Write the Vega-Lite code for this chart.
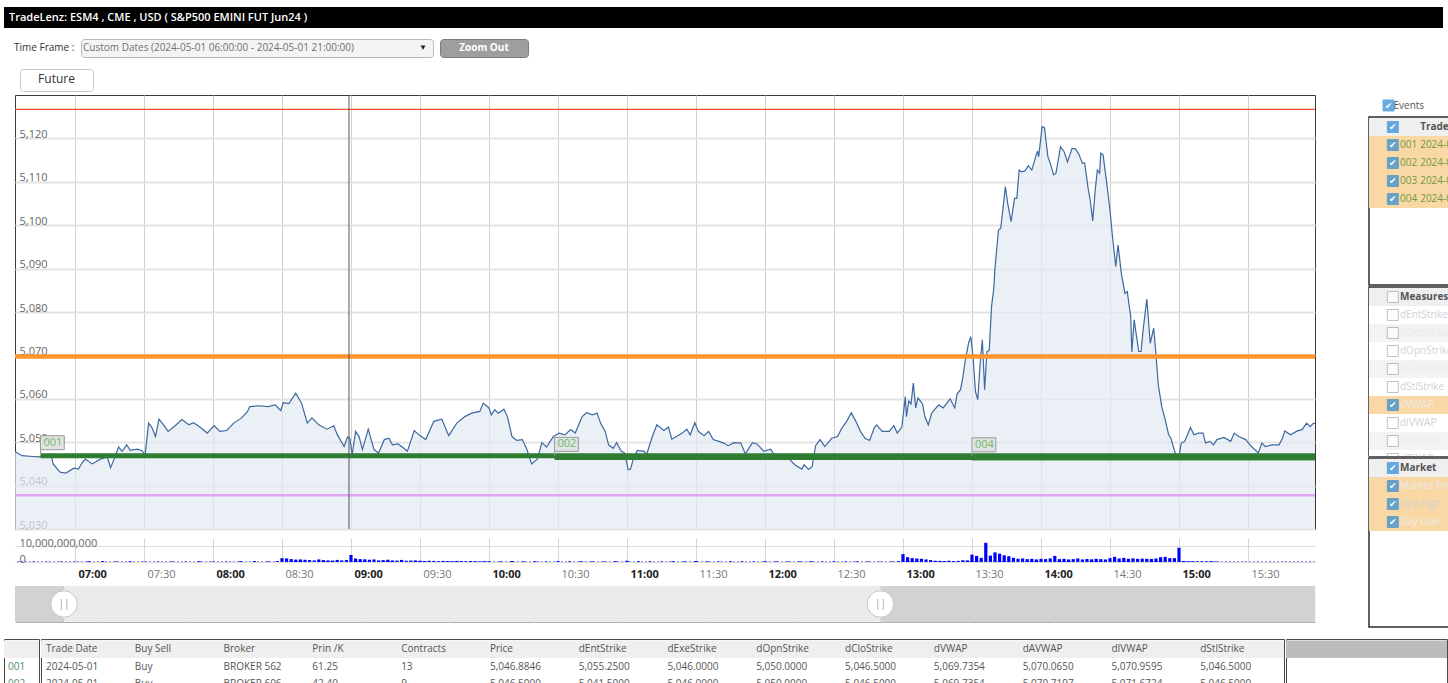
{
"$schema": "https://vega.github.io/schema/vega-lite/v6.json",
"background": "white",
"padding": {"left": 3, "top": 7, "right": 0, "bottom": 0},
"config": {"view": {"stroke": null}, "font": "Open Sans"},
"spacing": 10,
"datasets": {
"price": [
{"t":"2024-05-01T06:33:55Z","p":5047.9},{"t":"2024-05-01T06:34:00Z","p":5047.8},{"t":"2024-05-01T06:37:00Z","p":5046.9},{"t":"2024-05-01T06:41:30Z","p":5046.7},{"t":"2024-05-01T06:44:00Z","p":5046.6},{"t":"2024-05-01T06:47:00Z","p":5046.9},{"t":"2024-05-01T06:49:30Z","p":5047.3},{"t":"2024-05-01T06:50:30Z","p":5045.0},{"t":"2024-05-01T06:53:30Z","p":5043.1},{"t":"2024-05-01T06:56:00Z","p":5042.9},{"t":"2024-05-01T06:59:30Z","p":5044.0},
{"t":"2024-05-01T07:01:30Z","p":5043.8},{"t":"2024-05-01T07:03:00Z","p":5045.2},{"t":"2024-05-01T07:04:30Z","p":5046.1},{"t":"2024-05-01T07:07:30Z","p":5045.0},{"t":"2024-05-01T07:11:00Z","p":5046.1},{"t":"2024-05-01T07:14:00Z","p":5046.6},{"t":"2024-05-01T07:15:30Z","p":5044.1},{"t":"2024-05-01T07:17:00Z","p":5046.1},{"t":"2024-05-01T07:19:00Z","p":5048.9},{"t":"2024-05-01T07:20:30Z","p":5047.9},{"t":"2024-05-01T07:22:30Z","p":5049.4},{"t":"2024-05-01T07:24:00Z","p":5048.1},{"t":"2024-05-01T07:27:00Z","p":5048.4},{"t":"2024-05-01T07:29:00Z","p":5048.1},{"t":"2024-05-01T07:30:30Z","p":5047.1},{"t":"2024-05-01T07:32:00Z","p":5054.4},{"t":"2024-05-01T07:33:30Z","p":5053.3},{"t":"2024-05-01T07:35:00Z","p":5051.3},{"t":"2024-05-01T07:36:30Z","p":5055.3},{"t":"2024-05-01T07:38:30Z","p":5054.0},{"t":"2024-05-01T07:40:30Z","p":5052.5},{"t":"2024-05-01T07:43:30Z","p":5053.8},{"t":"2024-05-01T07:46:30Z","p":5055.2},{"t":"2024-05-01T07:49:30Z","p":5054.0},{"t":"2024-05-01T07:51:30Z","p":5054.5},{"t":"2024-05-01T07:54:00Z","p":5053.6},{"t":"2024-05-01T07:57:30Z","p":5052.1},
{"t":"2024-05-01T08:00:30Z","p":5053.8},{"t":"2024-05-01T08:03:00Z","p":5052.5},{"t":"2024-05-01T08:06:00Z","p":5052.7},{"t":"2024-05-01T08:09:00Z","p":5054.4},{"t":"2024-05-01T08:12:30Z","p":5055.6},{"t":"2024-05-01T08:15:00Z","p":5057.1},{"t":"2024-05-01T08:16:00Z","p":5058.2},{"t":"2024-05-01T08:20:00Z","p":5058.4},{"t":"2024-05-01T08:24:00Z","p":5058.2},{"t":"2024-05-01T08:27:00Z","p":5058.6},{"t":"2024-05-01T08:29:30Z","p":5057.3},{"t":"2024-05-01T08:30:30Z","p":5059.1},{"t":"2024-05-01T08:33:00Z","p":5058.9},{"t":"2024-05-01T08:36:00Z","p":5061.3},{"t":"2024-05-01T08:38:30Z","p":5059.0},{"t":"2024-05-01T08:41:00Z","p":5054.4},{"t":"2024-05-01T08:43:00Z","p":5055.6},{"t":"2024-05-01T08:46:00Z","p":5054.0},{"t":"2024-05-01T08:49:30Z","p":5053.0},{"t":"2024-05-01T08:52:30Z","p":5053.8},{"t":"2024-05-01T08:54:00Z","p":5051.8},{"t":"2024-05-01T08:57:00Z","p":5049.0},{"t":"2024-05-01T08:58:30Z","p":5051.2},{"t":"2024-05-01T08:59:30Z","p":5050.9},
{"t":"2024-05-01T09:00:30Z","p":5047.1},{"t":"2024-05-01T09:02:00Z","p":5052.5},{"t":"2024-05-01T09:03:30Z","p":5051.3},{"t":"2024-05-01T09:05:00Z","p":5048.3},{"t":"2024-05-01T09:07:30Z","p":5053.0},{"t":"2024-05-01T09:10:00Z","p":5048.3},{"t":"2024-05-01T09:12:00Z","p":5047.5},{"t":"2024-05-01T09:14:30Z","p":5050.6},{"t":"2024-05-01T09:16:30Z","p":5050.9},{"t":"2024-05-01T09:18:00Z","p":5049.4},{"t":"2024-05-01T09:20:30Z","p":5049.6},{"t":"2024-05-01T09:23:00Z","p":5048.6},{"t":"2024-05-01T09:24:30Z","p":5047.9},{"t":"2024-05-01T09:27:30Z","p":5052.7},{"t":"2024-05-01T09:29:30Z","p":5051.7},{"t":"2024-05-01T09:32:30Z","p":5050.6},{"t":"2024-05-01T09:36:00Z","p":5054.8},{"t":"2024-05-01T09:39:30Z","p":5055.3},{"t":"2024-05-01T09:42:30Z","p":5051.5},{"t":"2024-05-01T09:46:00Z","p":5054.4},{"t":"2024-05-01T09:49:30Z","p":5055.9},{"t":"2024-05-01T09:52:30Z","p":5056.7},{"t":"2024-05-01T09:56:00Z","p":5057.1},{"t":"2024-05-01T09:57:30Z","p":5059.0},
{"t":"2024-05-01T10:00:00Z","p":5057.9},{"t":"2024-05-01T10:01:00Z","p":5056.3},{"t":"2024-05-01T10:02:30Z","p":5057.5},{"t":"2024-05-01T10:04:00Z","p":5056.7},{"t":"2024-05-01T10:06:30Z","p":5057.6},{"t":"2024-05-01T10:08:00Z","p":5055.9},{"t":"2024-05-01T10:10:00Z","p":5051.3},{"t":"2024-05-01T10:12:00Z","p":5050.4},{"t":"2024-05-01T10:14:30Z","p":5050.6},{"t":"2024-05-01T10:16:30Z","p":5048.3},{"t":"2024-05-01T10:18:30Z","p":5045.0},{"t":"2024-05-01T10:21:00Z","p":5046.1},{"t":"2024-05-01T10:23:00Z","p":5049.9},{"t":"2024-05-01T10:25:00Z","p":5048.9},{"t":"2024-05-01T10:28:00Z","p":5051.3},{"t":"2024-05-01T10:30:30Z","p":5052.1},{"t":"2024-05-01T10:33:00Z","p":5051.7},{"t":"2024-05-01T10:35:30Z","p":5052.9},{"t":"2024-05-01T10:37:30Z","p":5052.1},{"t":"2024-05-01T10:40:30Z","p":5055.9},{"t":"2024-05-01T10:42:30Z","p":5056.8},{"t":"2024-05-01T10:45:00Z","p":5056.3},{"t":"2024-05-01T10:47:00Z","p":5056.7},{"t":"2024-05-01T10:48:30Z","p":5054.4},{"t":"2024-05-01T10:50:30Z","p":5052.5},{"t":"2024-05-01T10:52:00Z","p":5049.4},{"t":"2024-05-01T10:54:00Z","p":5048.6},{"t":"2024-05-01T10:55:30Z","p":5049.9},{"t":"2024-05-01T10:57:30Z","p":5047.9},{"t":"2024-05-01T10:59:00Z","p":5047.5},
{"t":"2024-05-01T11:00:30Z","p":5043.7},{"t":"2024-05-01T11:01:30Z","p":5043.8},{"t":"2024-05-01T11:03:00Z","p":5046.6},{"t":"2024-05-01T11:04:30Z","p":5048.1},{"t":"2024-05-01T11:07:30Z","p":5047.9},{"t":"2024-05-01T11:08:30Z","p":5047.1},{"t":"2024-05-01T11:11:00Z","p":5051.3},{"t":"2024-05-01T11:13:00Z","p":5054.0},{"t":"2024-05-01T11:16:00Z","p":5052.7},{"t":"2024-05-01T11:18:00Z","p":5053.5},{"t":"2024-05-01T11:19:30Z","p":5050.7},{"t":"2024-05-01T11:21:30Z","p":5051.3},{"t":"2024-05-01T11:24:00Z","p":5052.1},{"t":"2024-05-01T11:26:00Z","p":5053.0},{"t":"2024-05-01T11:27:30Z","p":5051.7},{"t":"2024-05-01T11:29:30Z","p":5054.5},{"t":"2024-05-01T11:31:00Z","p":5052.5},{"t":"2024-05-01T11:33:30Z","p":5051.5},{"t":"2024-05-01T11:35:30Z","p":5052.5},{"t":"2024-05-01T11:37:30Z","p":5050.6},{"t":"2024-05-01T11:40:00Z","p":5050.2},{"t":"2024-05-01T11:42:00Z","p":5049.8},{"t":"2024-05-01T11:44:00Z","p":5049.2},{"t":"2024-05-01T11:46:30Z","p":5049.9},{"t":"2024-05-01T11:49:30Z","p":5049.8},{"t":"2024-05-01T11:51:30Z","p":5047.3},{"t":"2024-05-01T11:54:30Z","p":5049.9},{"t":"2024-05-01T11:56:30Z","p":5049.6},{"t":"2024-05-01T11:59:30Z","p":5047.9},
{"t":"2024-05-01T12:02:30Z","p":5048.4},{"t":"2024-05-01T12:04:00Z","p":5047.1},{"t":"2024-05-01T12:06:00Z","p":5046.6},{"t":"2024-05-01T12:08:00Z","p":5046.0},{"t":"2024-05-01T12:10:30Z","p":5046.1},{"t":"2024-05-01T12:13:00Z","p":5044.8},{"t":"2024-05-01T12:16:00Z","p":5043.8},{"t":"2024-05-01T12:17:00Z","p":5044.8},{"t":"2024-05-01T12:19:00Z","p":5043.7},{"t":"2024-05-01T12:20:30Z","p":5044.4},{"t":"2024-05-01T12:22:00Z","p":5049.2},{"t":"2024-05-01T12:24:00Z","p":5050.6},{"t":"2024-05-01T12:26:00Z","p":5049.0},{"t":"2024-05-01T12:29:00Z","p":5050.9},{"t":"2024-05-01T12:31:30Z","p":5051.3},{"t":"2024-05-01T12:33:30Z","p":5053.3},{"t":"2024-05-01T12:35:30Z","p":5054.8},{"t":"2024-05-01T12:37:30Z","p":5056.8},{"t":"2024-05-01T12:39:30Z","p":5054.8},{"t":"2024-05-01T12:41:30Z","p":5052.5},{"t":"2024-05-01T12:43:30Z","p":5050.9},{"t":"2024-05-01T12:45:30Z","p":5050.4},{"t":"2024-05-01T12:47:30Z","p":5053.3},{"t":"2024-05-01T12:48:30Z","p":5054.0},{"t":"2024-05-01T12:51:00Z","p":5052.5},{"t":"2024-05-01T12:54:00Z","p":5052.5},{"t":"2024-05-01T12:56:00Z","p":5053.8},{"t":"2024-05-01T12:57:30Z","p":5052.1},{"t":"2024-05-01T12:59:30Z","p":5053.5},
{"t":"2024-05-01T13:01:00Z","p":5060.5},{"t":"2024-05-01T13:01:30Z","p":5055.9},{"t":"2024-05-01T13:02:30Z","p":5059.5},{"t":"2024-05-01T13:03:30Z","p":5058.8},{"t":"2024-05-01T13:04:30Z","p":5063.6},{"t":"2024-05-01T13:05:30Z","p":5057.9},{"t":"2024-05-01T13:06:30Z","p":5060.2},{"t":"2024-05-01T13:07:30Z","p":5059.5},{"t":"2024-05-01T13:08:30Z","p":5058.8},{"t":"2024-05-01T13:09:30Z","p":5055.9},{"t":"2024-05-01T13:11:00Z","p":5054.0},{"t":"2024-05-01T13:12:30Z","p":5056.7},{"t":"2024-05-01T13:15:30Z","p":5058.6},{"t":"2024-05-01T13:17:30Z","p":5057.9},{"t":"2024-05-01T13:20:30Z","p":5060.0},{"t":"2024-05-01T13:22:30Z","p":5057.9},{"t":"2024-05-01T13:23:30Z","p":5061.1},{"t":"2024-05-01T13:25:00Z","p":5062.1},{"t":"2024-05-01T13:26:00Z","p":5064.9},{"t":"2024-05-01T13:27:00Z","p":5068.6},{"t":"2024-05-01T13:28:30Z","p":5072.8},{"t":"2024-05-01T13:29:30Z","p":5074.3},{"t":"2024-05-01T13:30:30Z","p":5069.4},{"t":"2024-05-01T13:31:30Z","p":5061.7},{"t":"2024-05-01T13:32:30Z","p":5059.8},{"t":"2024-05-01T13:33:30Z","p":5067.8},{"t":"2024-05-01T13:34:30Z","p":5073.6},{"t":"2024-05-01T13:35:30Z","p":5062.1},{"t":"2024-05-01T13:36:30Z","p":5070.9},{"t":"2024-05-01T13:37:30Z","p":5071.1},{"t":"2024-05-01T13:38:30Z","p":5081.3},{"t":"2024-05-01T13:39:30Z","p":5085.5},{"t":"2024-05-01T13:40:00Z","p":5090.1},{"t":"2024-05-01T13:41:30Z","p":5098.9},{"t":"2024-05-01T13:42:30Z","p":5099.3},{"t":"2024-05-01T13:43:30Z","p":5103.9},{"t":"2024-05-01T13:44:30Z","p":5108.9},{"t":"2024-05-01T13:45:30Z","p":5105.1},{"t":"2024-05-01T13:47:00Z","p":5100.8},{"t":"2024-05-01T13:48:30Z","p":5106.2},{"t":"2024-05-01T13:49:30Z","p":5106.2},{"t":"2024-05-01T13:50:30Z","p":5112.7},{"t":"2024-05-01T13:51:30Z","p":5112.3},{"t":"2024-05-01T13:53:00Z","p":5112.5},{"t":"2024-05-01T13:54:30Z","p":5113.7},{"t":"2024-05-01T13:56:00Z","p":5112.7},{"t":"2024-05-01T13:57:30Z","p":5115.4},{"t":"2024-05-01T13:58:30Z","p":5117.1},{"t":"2024-05-01T13:59:00Z","p":5115.8},
{"t":"2024-05-01T14:00:30Z","p":5122.7},{"t":"2024-05-01T14:01:30Z","p":5122.5},{"t":"2024-05-01T14:03:00Z","p":5115.8},{"t":"2024-05-01T14:04:00Z","p":5114.3},{"t":"2024-05-01T14:05:30Z","p":5111.6},{"t":"2024-05-01T14:06:30Z","p":5112.0},{"t":"2024-05-01T14:08:30Z","p":5118.1},{"t":"2024-05-01T14:10:00Z","p":5117.0},{"t":"2024-05-01T14:11:30Z","p":5114.6},{"t":"2024-05-01T14:13:30Z","p":5117.7},{"t":"2024-05-01T14:15:00Z","p":5117.6},{"t":"2024-05-01T14:16:30Z","p":5116.3},{"t":"2024-05-01T14:18:00Z","p":5114.3},{"t":"2024-05-01T14:19:00Z","p":5114.3},{"t":"2024-05-01T14:20:30Z","p":5108.5},{"t":"2024-05-01T14:21:30Z","p":5105.4},{"t":"2024-05-01T14:22:30Z","p":5101.0},{"t":"2024-05-01T14:23:30Z","p":5107.7},{"t":"2024-05-01T14:24:30Z","p":5112.7},{"t":"2024-05-01T14:25:30Z","p":5112.0},{"t":"2024-05-01T14:26:00Z","p":5116.6},{"t":"2024-05-01T14:27:00Z","p":5116.2},{"t":"2024-05-01T14:28:30Z","p":5110.0},{"t":"2024-05-01T14:30:00Z","p":5103.5},{"t":"2024-05-01T14:31:00Z","p":5097.8},{"t":"2024-05-01T14:32:30Z","p":5090.5},{"t":"2024-05-01T14:33:30Z","p":5095.5},{"t":"2024-05-01T14:35:00Z","p":5088.6},{"t":"2024-05-01T14:36:30Z","p":5084.3},{"t":"2024-05-01T14:37:30Z","p":5084.7},{"t":"2024-05-01T14:39:00Z","p":5079.0},{"t":"2024-05-01T14:39:30Z","p":5070.8},{"t":"2024-05-01T14:40:30Z","p":5078.2},{"t":"2024-05-01T14:42:30Z","p":5070.9},{"t":"2024-05-01T14:43:30Z","p":5070.9},{"t":"2024-05-01T14:44:30Z","p":5076.3},{"t":"2024-05-01T14:46:00Z","p":5083.0},{"t":"2024-05-01T14:47:30Z","p":5072.8},{"t":"2024-05-01T14:49:00Z","p":5076.3},{"t":"2024-05-01T14:50:00Z","p":5070.1},{"t":"2024-05-01T14:51:00Z","p":5063.2},{"t":"2024-05-01T14:52:30Z","p":5058.2},{"t":"2024-05-01T14:54:00Z","p":5055.2},{"t":"2024-05-01T14:55:30Z","p":5051.7},{"t":"2024-05-01T14:56:30Z","p":5050.9},{"t":"2024-05-01T14:57:30Z","p":5049.0},{"t":"2024-05-01T14:58:30Z","p":5047.3},
{"t":"2024-05-01T15:00:00Z","p":5046.7},{"t":"2024-05-01T15:01:00Z","p":5049.8},{"t":"2024-05-01T15:02:30Z","p":5050.2},{"t":"2024-05-01T15:05:00Z","p":5053.4},{"t":"2024-05-01T15:06:30Z","p":5051.7},{"t":"2024-05-01T15:08:30Z","p":5052.1},{"t":"2024-05-01T15:10:30Z","p":5052.1},{"t":"2024-05-01T15:11:30Z","p":5049.8},{"t":"2024-05-01T15:13:30Z","p":5050.2},{"t":"2024-05-01T15:15:00Z","p":5049.4},{"t":"2024-05-01T15:16:30Z","p":5050.6},{"t":"2024-05-01T15:19:30Z","p":5051.1},{"t":"2024-05-01T15:22:30Z","p":5050.2},{"t":"2024-05-01T15:24:00Z","p":5052.1},{"t":"2024-05-01T15:26:00Z","p":5051.3},{"t":"2024-05-01T15:29:00Z","p":5050.6},{"t":"2024-05-01T15:31:30Z","p":5049.0},{"t":"2024-05-01T15:34:30Z","p":5047.5},{"t":"2024-05-01T15:36:00Z","p":5049.8},{"t":"2024-05-01T15:37:30Z","p":5049.0},{"t":"2024-05-01T15:40:30Z","p":5049.4},{"t":"2024-05-01T15:43:30Z","p":5049.4},{"t":"2024-05-01T15:45:00Z","p":5050.9},{"t":"2024-05-01T15:46:00Z","p":5052.6},{"t":"2024-05-01T15:48:30Z","p":5051.7},{"t":"2024-05-01T15:51:30Z","p":5052.6},{"t":"2024-05-01T15:53:30Z","p":5052.9},{"t":"2024-05-01T15:55:30Z","p":5054.4},{"t":"2024-05-01T15:57:00Z","p":5053.6},{"t":"2024-05-01T15:58:30Z","p":5054.4},{"t":"2024-05-01T15:59:08Z","p":5054.3}
],
"volume": [
{"t":"2024-05-01T06:36:00Z","v":2e8},{"t":"2024-05-01T06:42:00Z","v":2e8},{"t":"2024-05-01T06:48:00Z","v":2e8},{"t":"2024-05-01T06:54:00Z","v":3e8},{"t":"2024-05-01T07:00:00Z","v":2e8},{"t":"2024-05-01T07:06:00Z","v":5e8},{"t":"2024-05-01T07:12:00Z","v":6e8},{"t":"2024-05-01T07:18:00Z","v":3e8},{"t":"2024-05-01T07:24:00Z","v":5e8},{"t":"2024-05-01T07:30:00Z","v":2e8},{"t":"2024-05-01T07:36:00Z","v":2e8},{"t":"2024-05-01T07:42:00Z","v":3e8},{"t":"2024-05-01T07:48:00Z","v":2e8},{"t":"2024-05-01T07:54:00Z","v":5e8},{"t":"2024-05-01T08:00:00Z","v":3e8},{"t":"2024-05-01T08:06:00Z","v":2e8},{"t":"2024-05-01T08:12:00Z","v":5e8},{"t":"2024-05-01T08:18:00Z","v":6e8},{"t":"2024-05-01T08:24:00Z","v":4e8},
{"t":"2024-05-01T08:28:00Z","v":6e8},{"t":"2024-05-01T08:30:00Z","v":2.4e9},{"t":"2024-05-01T08:32:00Z","v":2.2e9},{"t":"2024-05-01T08:34:00Z","v":1.8e9},{"t":"2024-05-01T08:36:00Z","v":1.5e9},{"t":"2024-05-01T08:38:00Z","v":1.6e9},{"t":"2024-05-01T08:40:00Z","v":1.4e9},{"t":"2024-05-01T08:42:00Z","v":1.2e9},{"t":"2024-05-01T08:44:00Z","v":1.0e9},{"t":"2024-05-01T08:46:00Z","v":1.6e9},{"t":"2024-05-01T08:48:00Z","v":1.2e9},{"t":"2024-05-01T08:50:00Z","v":1.0e9},{"t":"2024-05-01T08:52:00Z","v":9e8},{"t":"2024-05-01T08:54:00Z","v":1.3e9},{"t":"2024-05-01T08:56:00Z","v":1.0e9},{"t":"2024-05-01T08:58:00Z","v":1.2e9},{"t":"2024-05-01T09:00:00Z","v":4.4e9},{"t":"2024-05-01T09:02:00Z","v":2.2e9},{"t":"2024-05-01T09:04:00Z","v":1.8e9},{"t":"2024-05-01T09:06:00Z","v":1.7e9},{"t":"2024-05-01T09:08:00Z","v":1.4e9},{"t":"2024-05-01T09:10:00Z","v":1.6e9},{"t":"2024-05-01T09:12:00Z","v":1.0e9},{"t":"2024-05-01T09:14:00Z","v":1.2e9},{"t":"2024-05-01T09:16:00Z","v":1.4e9},{"t":"2024-05-01T09:18:00Z","v":1.0e9},{"t":"2024-05-01T09:20:00Z","v":9e8},{"t":"2024-05-01T09:22:00Z","v":1.3e9},{"t":"2024-05-01T09:24:00Z","v":8e8},{"t":"2024-05-01T09:26:00Z","v":9e8},{"t":"2024-05-01T09:28:00Z","v":1.0e9},{"t":"2024-05-01T09:30:00Z","v":8e8},{"t":"2024-05-01T09:32:00Z","v":6e8},{"t":"2024-05-01T09:34:00Z","v":8e8},{"t":"2024-05-01T09:36:00Z","v":7e8},{"t":"2024-05-01T09:38:00Z","v":5e8},{"t":"2024-05-01T09:40:00Z","v":7e8},{"t":"2024-05-01T09:42:00Z","v":6e8},{"t":"2024-05-01T09:44:00Z","v":5e8},{"t":"2024-05-01T09:46:00Z","v":7e8},{"t":"2024-05-01T09:48:00Z","v":6e8},{"t":"2024-05-01T09:50:00Z","v":5e8},{"t":"2024-05-01T09:52:00Z","v":6e8},{"t":"2024-05-01T09:54:00Z","v":5e8},{"t":"2024-05-01T09:56:00Z","v":4e8},{"t":"2024-05-01T09:58:00Z","v":5e8},
{"t":"2024-05-01T10:00:00Z","v":5e8},{"t":"2024-05-01T10:05:00Z","v":4e8},{"t":"2024-05-01T10:10:00Z","v":6e8},{"t":"2024-05-01T10:15:00Z","v":4e8},{"t":"2024-05-01T10:20:00Z","v":5e8},{"t":"2024-05-01T10:25:00Z","v":3e8},{"t":"2024-05-01T10:30:00Z","v":6e8},{"t":"2024-05-01T10:35:00Z","v":4e8},{"t":"2024-05-01T10:40:00Z","v":5e8},{"t":"2024-05-01T10:45:00Z","v":4e8},{"t":"2024-05-01T10:50:00Z","v":3e8},{"t":"2024-05-01T10:55:00Z","v":5e8},{"t":"2024-05-01T11:00:00Z","v":8e8},{"t":"2024-05-01T11:05:00Z","v":5e8},{"t":"2024-05-01T11:10:00Z","v":4e8},{"t":"2024-05-01T11:15:00Z","v":3e8},{"t":"2024-05-01T11:20:00Z","v":5e8},{"t":"2024-05-01T11:25:00Z","v":4e8},{"t":"2024-05-01T11:30:00Z","v":6e8},{"t":"2024-05-01T11:35:00Z","v":4e8},{"t":"2024-05-01T11:40:00Z","v":3e8},{"t":"2024-05-01T11:45:00Z","v":5e8},{"t":"2024-05-01T11:50:00Z","v":4e8},{"t":"2024-05-01T11:55:00Z","v":3e8},{"t":"2024-05-01T12:00:00Z","v":5e8},{"t":"2024-05-01T12:05:00Z","v":4e8},{"t":"2024-05-01T12:10:00Z","v":3e8},{"t":"2024-05-01T12:15:00Z","v":4e8},{"t":"2024-05-01T12:20:00Z","v":5e8},{"t":"2024-05-01T12:25:00Z","v":3e8},{"t":"2024-05-01T12:30:00Z","v":4e8},{"t":"2024-05-01T12:35:00Z","v":3e8},{"t":"2024-05-01T12:40:00Z","v":4e8},{"t":"2024-05-01T12:45:00Z","v":3e8},{"t":"2024-05-01T12:50:00Z","v":2e8},{"t":"2024-05-01T12:55:00Z","v":3e8},
{"t":"2024-05-01T12:58:00Z","v":5e8},{"t":"2024-05-01T13:00:00Z","v":4.9e9},{"t":"2024-05-01T13:02:00Z","v":3.0e9},{"t":"2024-05-01T13:04:00Z","v":2.4e9},{"t":"2024-05-01T13:06:00Z","v":2.2e9},{"t":"2024-05-01T13:08:00Z","v":2.0e9},{"t":"2024-05-01T13:10:00Z","v":1.6e9},{"t":"2024-05-01T13:12:00Z","v":1.2e9},{"t":"2024-05-01T13:14:00Z","v":8e8},{"t":"2024-05-01T13:16:00Z","v":7e8},{"t":"2024-05-01T13:18:00Z","v":6e8},{"t":"2024-05-01T13:20:00Z","v":8e8},{"t":"2024-05-01T13:22:00Z","v":6e8},{"t":"2024-05-01T13:24:00Z","v":7e8},{"t":"2024-05-01T13:26:00Z","v":1.1e9},{"t":"2024-05-01T13:28:00Z","v":1.0e9},{"t":"2024-05-01T13:30:00Z","v":4.6e9},{"t":"2024-05-01T13:32:00Z","v":3.8e9},{"t":"2024-05-01T13:34:00Z","v":2.6e9},{"t":"2024-05-01T13:36:00Z","v":1.2e10},{"t":"2024-05-01T13:38:00Z","v":4.0e9},{"t":"2024-05-01T13:40:00Z","v":6.0e9},{"t":"2024-05-01T13:42:00Z","v":5.2e9},{"t":"2024-05-01T13:44:00Z","v":4.2e9},{"t":"2024-05-01T13:46:00Z","v":3.6e9},{"t":"2024-05-01T13:48:00Z","v":2.6e9},{"t":"2024-05-01T13:50:00Z","v":2.0e9},{"t":"2024-05-01T13:52:00Z","v":2.2e9},{"t":"2024-05-01T13:54:00Z","v":1.8e9},{"t":"2024-05-01T13:56:00Z","v":2.0e9},{"t":"2024-05-01T13:58:00Z","v":1.6e9},{"t":"2024-05-01T14:00:00Z","v":2.0e9},{"t":"2024-05-01T14:02:00Z","v":1.8e9},{"t":"2024-05-01T14:04:00Z","v":2.2e9},{"t":"2024-05-01T14:06:00Z","v":3.8e9},{"t":"2024-05-01T14:08:00Z","v":1.8e9},{"t":"2024-05-01T14:10:00Z","v":2.0e9},{"t":"2024-05-01T14:12:00Z","v":1.6e9},{"t":"2024-05-01T14:14:00Z","v":1.8e9},{"t":"2024-05-01T14:16:00Z","v":2.2e9},{"t":"2024-05-01T14:18:00Z","v":1.6e9},{"t":"2024-05-01T14:20:00Z","v":1.9e9},{"t":"2024-05-01T14:22:00Z","v":1.7e9},{"t":"2024-05-01T14:24:00Z","v":2.0e9},{"t":"2024-05-01T14:26:00Z","v":1.8e9},{"t":"2024-05-01T14:28:00Z","v":1.6e9},{"t":"2024-05-01T14:30:00Z","v":2.4e9},{"t":"2024-05-01T14:32:00Z","v":3.2e9},{"t":"2024-05-01T14:34:00Z","v":2.2e9},{"t":"2024-05-01T14:36:00Z","v":2.6e9},{"t":"2024-05-01T14:38:00Z","v":2.0e9},{"t":"2024-05-01T14:40:00Z","v":2.3e9},{"t":"2024-05-01T14:42:00Z","v":2.0e9},{"t":"2024-05-01T14:44:00Z","v":2.1e9},{"t":"2024-05-01T14:46:00Z","v":2.0e9},{"t":"2024-05-01T14:48:00Z","v":1.9e9},{"t":"2024-05-01T14:50:00Z","v":2.2e9},{"t":"2024-05-01T14:52:00Z","v":3.0e9},{"t":"2024-05-01T14:54:00Z","v":3.2e9},{"t":"2024-05-01T14:56:00Z","v":2.4e9},{"t":"2024-05-01T14:58:00Z","v":2.4e9},{"t":"2024-05-01T15:00:00Z","v":8.9e9},{"t":"2024-05-01T15:02:00Z","v":6e8},{"t":"2024-05-01T15:04:00Z","v":5e8},{"t":"2024-05-01T15:06:00Z","v":5e8},{"t":"2024-05-01T15:08:00Z","v":4e8},{"t":"2024-05-01T15:10:00Z","v":5e8},{"t":"2024-05-01T15:12:00Z","v":4e8},{"t":"2024-05-01T15:14:00Z","v":5e8},{"t":"2024-05-01T15:16:00Z","v":3e8},
{"t":"2024-05-01T15:22:00Z","v":1e8},{"t":"2024-05-01T15:28:00Z","v":1e8},{"t":"2024-05-01T15:34:00Z","v":1e8},{"t":"2024-05-01T15:40:00Z","v":1e8},{"t":"2024-05-01T15:46:00Z","v":1e8},{"t":"2024-05-01T15:52:00Z","v":1e8},{"t":"2024-05-01T15:57:00Z","v":1e8}
],
"trades": [
{"trade":"001","time":"2024-05-01T06:45:00Z","price":5046.8846},
{"trade":"002","time":"2024-05-01T10:28:30Z","price":5046.5},
{"trade":"003","time":"2024-05-01T13:30:00Z","price":5046.4},
{"trade":"004","time":"2024-05-01T13:30:00Z","price":5046.4}
],
"tradeRows": [
{"id":"001","date":"2024-05-01","side":"Buy","broker":"BROKER 562","prin":"61.25","contracts":"13","price":"5,046.8846","dEntStrike":"5,055.2500","dExeStrike":"5,046.0000","dOpnStrike":"5,050.0000","dCloStrike":"5,046.5000","dVWAP":"5,069.7354","dAVWAP":"5,070.0650","dIVWAP":"5,070.9595","dStlStrike":"5,046.5000"},
{"id":"002","date":"2024-05-01","side":"Buy","broker":"BROKER 606","prin":"42.40","contracts":"9","price":"5,046.5000","dEntStrike":"5,041.5000","dExeStrike":"5,046.0000","dOpnStrike":"5,050.0000","dCloStrike":"5,046.5000","dVWAP":"5,069.7354","dAVWAP":"5,070.7197","dIVWAP":"5,071.6724","dStlStrike":"5,046.5000"}
],
"tradeCols": [
{"col":"date","name":"Trade Date"},{"col":"side","name":"Buy Sell"},{"col":"broker","name":"Broker"},{"col":"prin","name":"Prin /K"},{"col":"contracts","name":"Contracts"},{"col":"price","name":"Price"},{"col":"dEntStrike","name":"dEntStrike"},{"col":"dExeStrike","name":"dExeStrike"},{"col":"dOpnStrike","name":"dOpnStrike"},{"col":"dCloStrike","name":"dCloStrike"},{"col":"dVWAP","name":"dVWAP"},{"col":"dAVWAP","name":"dAVWAP"},{"col":"dIVWAP","name":"dIVWAP"},{"col":"dStlStrike","name":"dStlStrike"}
]
},
"vconcat": [
{
 "width": 1439, "height": 21,
 "view": {"fill": "#000000", "stroke": null},
 "title": {"text": "TradeLenz: ESM4 , CME , USD ( S&P500 EMINI FUT Jun24 )", "anchor": "start", "offset": -16, "dx": 5, "color": "#ffffff", "fontSize": 11, "fontWeight": 600},
 "data": {"values": [{}]},
 "mark": {"type": "text", "text": ""},
 "encoding": {}
},
{
 "hconcat": [
  {"width": 5, "height": 1, "data": {"values": []}, "mark": "rect"},
  {"width": 50, "height": 18, "title": {"text": "Time Frame :", "anchor": "start", "offset": -14, "fontSize": 10, "fontWeight": "normal", "color": "#333333"}, "data": {"values": [{}]}, "mark": {"type": "text", "text": ""}, "encoding": {}},
  {"width": 352, "height": 18, "view": {"fill": "#f4f4f4", "stroke": "#b8b8b8", "cornerRadius": 3}, "title": {"text": "Custom Dates (2024-05-01 06:00:00 - 2024-05-01 21:00:00)", "anchor": "start", "offset": -14, "dx": 2, "fontSize": 10, "fontWeight": "normal", "color": "#707070"}, "data": {"values": [{}]}, "mark": {"type": "text", "text": "▼", "fontSize": 8, "color": "#222222", "dx": -10}, "encoding": {"x": {"datum": 1, "type": "quantitative", "scale": {"domain": [0, 1]}, "axis": null}}},
  {"width": 88, "height": 18, "view": {"fill": "#9e9e9e", "stroke": "#7d7d7d", "cornerRadius": 3}, "title": {"text": "Zoom Out", "anchor": "middle", "offset": -14, "fontSize": 10, "fontWeight": "bold", "color": "#ffffff"}, "data": {"values": [{}]}, "mark": {"type": "text", "text": ""}, "encoding": {}}
 ],
 "spacing": 5
},
{
 "vconcat": [
  {"hconcat": [
    {"width": 1, "height": 1, "data": {"values": []}, "mark": "rect"},
    {"width": 73, "height": 22, "view": {"fill": "#ffffff", "stroke": "#c8c8c8", "cornerRadius": 3}, "title": {"text": "Future", "anchor": "middle", "offset": -17, "fontSize": 12, "fontWeight": "normal", "color": "#333333"}, "data": {"values": [{}]}, "mark": {"type": "text", "text": ""}, "encoding": {}}
   ], "spacing": 14},
  {"hconcat": [
    {"width": 1, "height": 1, "data": {"values": []}, "mark": "rect"},
    {"vconcat": [
      {
       "width": 1300, "height": 434,
       "view": {"stroke": "#3a3a3a", "fill": "#ffffff"},
       "layer": [
        {"data": {"name": "price"},
         "mark": {"type": "area", "clip": true, "color": "#e3e9f2", "line": {"color": "#3e68a0", "strokeWidth": 1.2}},
         "encoding": {
          "x": {"field": "t", "type": "temporal", "title": null, "scale": {"type": "utc", "nice": false, "padding": 0, "domain": [{"year": 2024, "month": 5, "date": 1, "hours": 6, "minutes": 33, "seconds": 55, "utc": true}, {"year": 2024, "month": 5, "date": 1, "hours": 15, "minutes": 59, "seconds": 8, "utc": true}]},
                "axis": {"title": null, "labels": false, "ticks": false, "domain": false, "grid": true, "gridColor": "#cfcfcf", "tickCount": 19}},
          "y": {"field": "p", "type": "quantitative", "title": null, "scale": {"domain": [5030, 5130], "zero": false, "nice": false},
                "axis": {"title": null, "values": [5030, 5040, 5050, 5060, 5070, 5080, 5090, 5100, 5110, 5120], "format": ",.0f", "ticks": false, "domain": false, "grid": true, "gridColor": "#e3e3e3", "gridWidth": 2, "labelAlign": "left", "labelBaseline": "alphabetic", "labelPadding": -4, "labelOffset": -1, "labelColor": "#666666", "labelFontSize": 11}}
         }},
        {"data": {"values": [{"measure": "Day Low", "level": 5037.8}]},
         "mark": {"type": "rule", "color": "#e2a5f2", "strokeWidth": 2.5, "clip": true},
         "encoding": {"y": {"field": "level", "type": "quantitative", "title": null}}},
        {"data": {"values": [{"measure": "Day High", "level": 5126.7}]},
         "mark": {"type": "rule", "color": "#ff4f26", "strokeWidth": 1.2, "clip": true},
         "encoding": {"y": {"field": "level", "type": "quantitative", "title": null}}},
        {"data": {"values": [{"measure": "dVWAP", "level": 5069.7354}]},
         "mark": {"type": "rule", "color": "#ff952b", "strokeWidth": 4.5, "clip": true},
         "encoding": {"y": {"field": "level", "type": "quantitative", "title": null}}},
        {"data": {"name": "trades"},
         "mark": {"type": "rule", "color": "#2e7d32", "strokeWidth": 5, "clip": true},
         "encoding": {
          "x": {"field": "time", "type": "temporal", "title": null},
          "x2": {"datum": {"year": 2024, "month": 5, "date": 1, "hours": 15, "minutes": 59, "seconds": 8, "utc": true}},
          "y": {"field": "price", "type": "quantitative", "title": null}
         }},
        {"data": {"values": [{"cursor": "2024-05-01T08:59:08Z"}]},
         "mark": {"type": "rule", "color": "#555555", "strokeWidth": 1, "clip": true},
         "encoding": {"x": {"field": "cursor", "type": "temporal", "title": null}}},
        {"data": {"name": "trades"},
         "transform": [{"filter": "datum.trade != '003'"}],
         "mark": {"type": "point", "shape": "M0,-1H3.4V1H0Z M0,1V1.6", "size": 196, "filled": true, "fill": "#e0e0e0", "fillOpacity": 0.95, "stroke": "#9a9a9a", "strokeWidth": 1, "yOffset": -13},
         "encoding": {"x": {"field": "time", "type": "temporal", "title": null}, "y": {"field": "price", "type": "quantitative", "title": null}}},
        {"data": {"name": "trades"},
         "transform": [{"filter": "datum.trade != '003'"}],
         "mark": {"type": "text", "align": "left", "baseline": "middle", "dx": 3, "dy": -13, "fontSize": 11, "color": "#6dba6d"},
         "encoding": {"x": {"field": "time", "type": "temporal", "title": null}, "y": {"field": "price", "type": "quantitative", "title": null}, "text": {"field": "trade"}}}
       ]
      },
      {
       "width": 1300, "height": 24,
       "resolve": {"axis": {"x": "independent"}},
       "layer": [
        {"data": {"name": "volume"},
         "mark": {"type": "bar", "color": "#0000ff", "width": 3.2, "clip": true},
         "encoding": {
          "x": {"field": "t", "type": "temporal", "title": null, "scale": {"type": "utc", "nice": false, "padding": 0, "domain": [{"year": 2024, "month": 5, "date": 1, "hours": 6, "minutes": 33, "seconds": 55, "utc": true}, {"year": 2024, "month": 5, "date": 1, "hours": 15, "minutes": 59, "seconds": 8, "utc": true}]},
                "axis": {"title": null, "orient": "bottom", "tickCount": 19, "format": "%H:%M", "grid": true, "gridColor": "#d6d6d6", "ticks": false, "domain": false, "labelAlign": "left", "labelBaseline": "top", "labelPadding": 6, "labelOffset": 3, "labelFontSize": 11, "labelColor": "#777777", "labelExpr": "utcminutes(datum.value) == 30 ? datum.label : ''", "labelOverlap": false, "labelFlush": false}},
          "y": {"field": "v", "type": "quantitative", "title": null, "scale": {"domain": [0, 15000000000], "nice": false},
                "axis": {"title": null, "values": [0, 5000000000, 10000000000], "format": ",.0f", "ticks": false, "domain": false, "grid": true, "gridColor": "#dcdcdc", "labelAlign": "left", "labelBaseline": "alphabetic", "labelPadding": -4, "labelColor": "#666666", "labelFontSize": 11, "labelOverlap": false}}
         }},
        {"data": {"name": "volume"},
         "mark": {"type": "point", "opacity": 0, "size": 1, "clip": true},
         "encoding": {
          "x": {"field": "t", "type": "temporal", "title": null, "scale": {"type": "utc", "nice": false, "padding": 0, "domain": [{"year": 2024, "month": 5, "date": 1, "hours": 6, "minutes": 33, "seconds": 55, "utc": true}, {"year": 2024, "month": 5, "date": 1, "hours": 15, "minutes": 59, "seconds": 8, "utc": true}]},
                "axis": {"title": null, "orient": "bottom", "tickCount": 19, "format": "%H:%M", "grid": false, "ticks": false, "domain": false, "labelAlign": "left", "labelBaseline": "top", "labelPadding": 6, "labelOffset": 3, "labelFontSize": 11, "labelColor": "#222222", "labelFontWeight": "bold", "labelExpr": "utcminutes(datum.value) == 0 && utchours(datum.value) < 16 ? datum.label : ''", "labelOverlap": false, "labelFlush": false}},
          "y": {"field": "v", "type": "quantitative", "title": null}
         }},
        {"data": {"values": [{"z": 0}]},
         "mark": {"type": "rule", "color": "#2233ff", "strokeDash": [2, 2], "strokeWidth": 1.2, "clip": true},
         "encoding": {"y": {"field": "z", "type": "quantitative", "title": null}}}
       ]
      },
      {
       "width": 1300, "height": 36,
       "view": {"stroke": "#b0b0b0", "fill": "#e8e8e8"},
       "layer": [
        {"data": {"values": [
           {"from": "2024-05-01T06:00:00Z", "to": "2024-05-01T06:33:55Z", "zone": "outside"},
           {"from": "2024-05-01T06:33:55Z", "to": "2024-05-01T15:59:08Z", "zone": "selected"},
           {"from": "2024-05-01T15:59:08Z", "to": "2024-05-01T21:00:00Z", "zone": "outside"}]},
         "mark": {"type": "rect"},
         "encoding": {
          "x": {"field": "from", "type": "temporal", "title": null, "scale": {"type": "utc", "nice": false, "padding": 0, "domain": [{"year": 2024, "month": 5, "date": 1, "hours": 6, "utc": true}, {"year": 2024, "month": 5, "date": 1, "hours": 21, "utc": true}]},
                "axis": {"title": null, "orient": "bottom", "tickCount": 15, "format": "%H:%M", "grid": true, "gridColor": "#f6f6f6", "ticks": false, "domain": false, "labelAlign": "center", "labelBaseline": "middle", "labelPadding": -9, "labelOffset": 43, "labelColor": "#fbfbfb", "labelFontSize": 11, "labelExpr": "utchours(datum.value) >= 21 ? '' : datum.label", "labelOverlap": false, "labelFlush": false}},
          "x2": {"field": "to"},
          "color": {"field": "zone", "type": "nominal", "scale": {"domain": ["outside", "selected"], "range": ["#d2d2d2", "#ebebeb"]}, "legend": null}
         }},
        {"data": {"values": [{"edge": "2024-05-01T06:33:55Z"}, {"edge": "2024-05-01T15:59:08Z"}]},
         "mark": {"type": "point", "shape": "circle", "size": 700, "filled": true, "fill": "#ffffff", "stroke": "#c8c8c8", "strokeWidth": 1, "opacity": 1},
         "encoding": {"x": {"field": "edge", "type": "temporal", "title": null}}},
        {"data": {"values": [{"edge": "2024-05-01T06:33:55Z"}, {"edge": "2024-05-01T15:59:08Z"}]},
         "mark": {"type": "text", "text": "||", "color": "#9a9a9a", "fontSize": 10},
         "encoding": {"x": {"field": "edge", "type": "temporal", "title": null}}}
       ]
      }
     ], "spacing": 6},
    {"vconcat": [
      {
       "width": 120, "height": 21,
       "data": {"values": [{"label": "Events", "checked": true}]},
       "layer": [
        {"mark": {"type": "point", "shape": "square", "size": 120, "filled": true, "strokeWidth": 1, "fill": "#2a8ad6", "stroke": "#2a8ad6"},
         "encoding": {"x": {"datum": "chk", "type": "nominal", "scale": {"type": "point", "domain": ["chk", "lbl"], "range": [17, 27]}, "axis": null}}},
        {"mark": {"type": "text", "text": "✔", "font": "DejaVu Sans", "fontSize": 9, "color": "#ffffff"},
         "encoding": {"x": {"datum": "chk", "type": "nominal", "axis": null}}},
        {"mark": {"type": "text", "align": "left", "fontSize": 10, "color": "#555555"},
         "encoding": {"x": {"datum": "lbl", "type": "nominal", "axis": null}, "text": {"field": "label"}}}
       ]
      },
      {
       "width": 120, "height": 168,
       "view": {"stroke": "#2d2d2d", "strokeWidth": 1.5},
       "data": {"values": [
         {"row": "hdr", "id": "", "label": "Trades", "header": true, "checked": true, "i": 0},
         {"row": "001", "id": "001", "label": "2024-05-01 06:45:00", "header": false, "checked": true, "i": 1},
         {"row": "002", "id": "002", "label": "2024-05-01 10:28:30", "header": false, "checked": true, "i": 2},
         {"row": "003", "id": "003", "label": "2024-05-01 13:30:00", "header": false, "checked": true, "i": 3},
         {"row": "004", "id": "004", "label": "2024-05-01 13:30:00", "header": false, "checked": true, "i": 4}]},
       "encoding": {"y": {"field": "row", "type": "nominal", "scale": {"type": "band", "domain": ["hdr", "001", "002", "003", "004"], "range": [1, 91], "paddingInner": 0, "paddingOuter": 0}, "axis": null}},
       "layer": [
        {"mark": {"type": "rect", "clip": true},
         "encoding": {"fill": {"condition": [{"test": "datum.header", "value": "#efefef"}, {"test": "datum.checked", "value": "#fad8a5"}, {"test": "datum.i % 2 == 0", "value": "#f3f3f3"}], "value": "#ffffff"}}},
        {"mark": {"type": "point", "shape": "square", "size": 120, "filled": true, "strokeWidth": 1, "clip": true},
         "encoding": {"x": {"datum": "chk", "type": "nominal", "scale": {"type": "point", "domain": ["chk", "lbl", "txt"], "range": [17, 58]}, "axis": null},
                      "fill": {"condition": {"test": "datum.checked", "value": "#2a8ad6"}, "value": "#ffffff"},
                      "stroke": {"condition": {"test": "datum.checked", "value": "#2a8ad6"}, "value": "#a8a8a8"}}},
        {"transform": [{"filter": "datum.checked"}],
         "mark": {"type": "text", "text": "✔", "font": "DejaVu Sans", "fontSize": 9, "color": "#ffffff", "clip": true},
         "encoding": {"x": {"datum": "chk", "type": "nominal", "axis": null}}},
        {"transform": [{"filter": "!datum.header"}],
         "mark": {"type": "text", "align": "left", "fontSize": 10, "color": "#6f9a3d", "dx": -6.5, "clip": true},
         "encoding": {"x": {"datum": "lbl", "type": "nominal", "axis": null}, "text": {"field": "id"}}},
        {"transform": [{"filter": "!datum.header"}],
         "mark": {"type": "text", "align": "left", "fontSize": 10, "color": "#6f9a3d", "clip": true},
         "encoding": {"x": {"datum": "txt", "type": "nominal", "axis": null}, "text": {"field": "label"}}},
        {"transform": [{"filter": "datum.header"}],
         "mark": {"type": "text", "align": "left", "fontSize": 10, "fontWeight": "bold", "color": "#555555", "clip": true},
         "encoding": {"x": {"datum": "txt", "type": "nominal", "axis": null}, "text": {"field": "label"}}}
       ]
      },
      {
       "width": 120, "height": 169,
       "view": {"stroke": "#2d2d2d", "strokeWidth": 1.5},
       "data": {"values": [
         {"row": "hdr", "label": "Measures", "header": true, "checked": false, "i": 0},
         {"row": "dEntStrike", "label": "dEntStrike", "header": false, "checked": false, "i": 1},
         {"row": "dExeStrike", "label": "dExeStrike", "header": false, "checked": false, "i": 2},
         {"row": "dOpnStrike", "label": "dOpnStrike", "header": false, "checked": false, "i": 3},
         {"row": "dCloStrike", "label": "dCloStrike", "header": false, "checked": false, "i": 4},
         {"row": "dStlStrike", "label": "dStlStrike", "header": false, "checked": false, "i": 5},
         {"row": "dVWAP", "label": "dVWAP", "header": false, "checked": true, "i": 6},
         {"row": "dIVWAP", "label": "dIVWAP", "header": false, "checked": false, "i": 7},
         {"row": "dAVWAP", "label": "dAVWAP", "header": false, "checked": false, "i": 8},
         {"row": "dTWAP", "label": "dTWAP", "header": false, "checked": false, "i": 9}]},
       "encoding": {"y": {"field": "row", "type": "nominal", "scale": {"type": "band", "domain": ["hdr", "dEntStrike", "dExeStrike", "dOpnStrike", "dCloStrike", "dStlStrike", "dVWAP", "dIVWAP", "dAVWAP", "dTWAP"], "range": [1, 181], "paddingInner": 0, "paddingOuter": 0}, "axis": null}},
       "layer": [
        {"mark": {"type": "rect", "clip": true},
         "encoding": {"fill": {"condition": [{"test": "datum.header", "value": "#efefef"}, {"test": "datum.checked", "value": "#fad8a5"}, {"test": "datum.i % 2 == 0", "value": "#f3f3f3"}], "value": "#ffffff"}}},
        {"mark": {"type": "point", "shape": "square", "size": 120, "filled": true, "strokeWidth": 1, "clip": true},
         "encoding": {"x": {"datum": "chk", "type": "nominal", "scale": {"type": "point", "domain": ["chk", "lbl", "txt"], "range": [17, 58]}, "axis": null},
                      "fill": {"condition": {"test": "datum.checked", "value": "#2a8ad6"}, "value": "#ffffff"},
                      "stroke": {"condition": {"test": "datum.checked", "value": "#2a8ad6"}, "value": "#a8a8a8"}}},
        {"transform": [{"filter": "datum.checked"}],
         "mark": {"type": "text", "text": "✔", "font": "DejaVu Sans", "fontSize": 9, "color": "#ffffff", "clip": true},
         "encoding": {"x": {"datum": "chk", "type": "nominal", "axis": null}}},
        {"transform": [{"filter": "!datum.header"}],
         "mark": {"type": "text", "align": "left", "fontSize": 10, "dx": -6.5, "clip": true},
         "encoding": {"x": {"datum": "lbl", "type": "nominal", "axis": null}, "text": {"field": "label"},
                      "color": {"field": "label", "type": "nominal", "scale": {"domain": ["dEntStrike", "dExeStrike", "dOpnStrike", "dCloStrike", "dStlStrike", "dVWAP", "dIVWAP", "dAVWAP", "dTWAP"], "range": ["#f28ad9", "#f9b36f", "#f7c9ee", "#a889ef", "#7d98ab", "#ff9a3a", "#d2379d", "#a3cf7a", "#888888"]}, "legend": null}}},
        {"transform": [{"filter": "datum.header"}],
         "mark": {"type": "text", "align": "left", "fontSize": 10, "fontWeight": "bold", "color": "#555555", "dx": -6.5, "clip": true},
         "encoding": {"x": {"datum": "lbl", "type": "nominal", "axis": null}, "text": {"field": "label"}}}
       ]
      },
      {
       "width": 120, "height": 169,
       "view": {"stroke": "#2d2d2d", "strokeWidth": 1.5},
       "data": {"values": [
         {"row": "hdr", "label": "Market", "header": true, "checked": true, "i": 0},
         {"row": "Market Price", "label": "Market Price", "header": false, "checked": true, "i": 1},
         {"row": "Day High", "label": "Day High", "header": false, "checked": true, "i": 2},
         {"row": "Day Low", "label": "Day Low", "header": false, "checked": true, "i": 3}]},
       "encoding": {"y": {"field": "row", "type": "nominal", "scale": {"type": "band", "domain": ["hdr", "Market Price", "Day High", "Day Low"], "range": [1, 73], "paddingInner": 0, "paddingOuter": 0}, "axis": null}},
       "layer": [
        {"mark": {"type": "rect", "clip": true},
         "encoding": {"fill": {"condition": [{"test": "datum.header", "value": "#efefef"}, {"test": "datum.checked", "value": "#fad8a5"}, {"test": "datum.i % 2 == 0", "value": "#f3f3f3"}], "value": "#ffffff"}}},
        {"mark": {"type": "point", "shape": "square", "size": 120, "filled": true, "strokeWidth": 1, "clip": true},
         "encoding": {"x": {"datum": "chk", "type": "nominal", "scale": {"type": "point", "domain": ["chk", "lbl", "txt"], "range": [17, 58]}, "axis": null},
                      "fill": {"condition": {"test": "datum.checked", "value": "#2a8ad6"}, "value": "#ffffff"},
                      "stroke": {"condition": {"test": "datum.checked", "value": "#2a8ad6"}, "value": "#a8a8a8"}}},
        {"transform": [{"filter": "datum.checked"}],
         "mark": {"type": "text", "text": "✔", "font": "DejaVu Sans", "fontSize": 9, "color": "#ffffff", "clip": true},
         "encoding": {"x": {"datum": "chk", "type": "nominal", "axis": null}}},
        {"transform": [{"filter": "!datum.header"}],
         "mark": {"type": "text", "align": "left", "fontSize": 10, "dx": -6.5, "clip": true},
         "encoding": {"x": {"datum": "lbl", "type": "nominal", "axis": null}, "text": {"field": "label"},
                      "color": {"field": "label", "type": "nominal", "scale": {"domain": ["Market Price", "Day High", "Day Low"], "range": ["#777777", "#ff5c33", "#e08ff0"]}, "legend": null}}},
        {"transform": [{"filter": "datum.header"}],
         "mark": {"type": "text", "align": "left", "fontSize": 10, "fontWeight": "bold", "color": "#555555", "dx": -6.5, "clip": true},
         "encoding": {"x": {"datum": "lbl", "type": "nominal", "axis": null}, "text": {"field": "label"}}}
       ]
      }
     ], "spacing": 0}
   ], "spacing": 9}
 ],
 "spacing": 2
},
{
 "hconcat": [
  {
   "width": 35, "height": 51,
   "view": {"stroke": "#4a4a4a"},
   "layer": [
    {"data": {"values": [{"row": "hdr"}]},
     "mark": {"type": "rect", "color": "#efefef"},
     "encoding": {"y": {"field": "row", "type": "nominal", "scale": {"type": "band", "domain": ["hdr", "001", "002"], "range": [1.5, 54], "paddingInner": 0, "paddingOuter": 0}, "axis": null}}},
    {"data": {"name": "tradeRows"},
     "mark": {"type": "text", "align": "left", "dx": 4, "fontSize": 10, "color": "#4e8f66", "clip": true},
     "encoding": {"x": {"datum": 0, "type": "quantitative", "scale": {"domain": [0, 1]}, "axis": null}, "y": {"field": "id", "type": "nominal", "axis": null}, "text": {"field": "id"}}}
   ]
  },
  {
   "width": 1243, "height": 51,
   "view": {"stroke": "#4a4a4a"},
   "layer": [
    {"data": {"values": [{"row": "hdr"}]},
     "mark": {"type": "rect", "color": "#efefef"},
     "encoding": {"y": {"field": "row", "type": "nominal", "scale": {"type": "band", "domain": ["hdr", "001", "002"], "range": [1.5, 54], "paddingInner": 0, "paddingOuter": 0}, "axis": null}}},
    {"data": {"name": "tradeCols"},
     "mark": {"type": "text", "align": "left", "dx": 5, "fontSize": 10, "color": "#555555"},
     "encoding": {
      "x": {"field": "col", "type": "nominal", "bandPosition": 0, "scale": {"type": "band", "domain": ["date", "side", "broker", "prin", "contracts", "price", "dEntStrike", "dExeStrike", "dOpnStrike", "dCloStrike", "dVWAP", "dAVWAP", "dIVWAP", "dStlStrike"], "paddingInner": 0, "paddingOuter": 0}, "axis": null},
      "y": {"datum": "hdr", "type": "nominal", "axis": null},
      "text": {"field": "name"}}},
    {"data": {"name": "tradeRows"},
     "transform": [{"fold": ["date", "side", "broker", "prin", "contracts", "price", "dEntStrike", "dExeStrike", "dOpnStrike", "dCloStrike", "dVWAP", "dAVWAP", "dIVWAP", "dStlStrike"], "as": ["col", "val"]}],
     "mark": {"type": "text", "align": "left", "dx": 5, "fontSize": 10, "color": "#555555", "clip": true},
     "encoding": {"x": {"field": "col", "type": "nominal", "bandPosition": 0, "axis": null}, "y": {"field": "id", "type": "nominal", "axis": null}, "text": {"field": "val"}}}
   ]
  },
  {
   "width": 161, "height": 51,
   "view": {"stroke": "#4a4a4a"},
   "data": {"values": [{"row": "hdr"}]},
   "mark": {"type": "rect", "color": "#bcbcbc"},
   "encoding": {"y": {"field": "row", "type": "nominal", "scale": {"type": "band", "domain": ["hdr", "001", "002"], "range": [1.5, 54], "paddingInner": 0, "paddingOuter": 0}, "axis": null}}
  }
 ],
 "spacing": 0
}
]
}
